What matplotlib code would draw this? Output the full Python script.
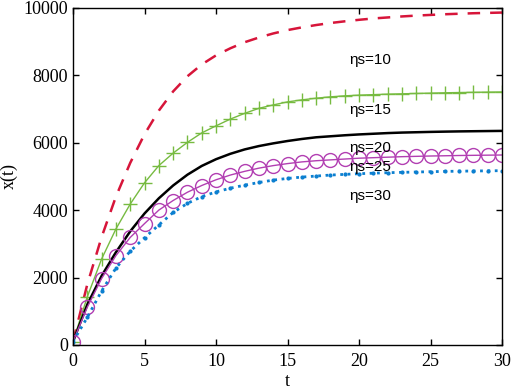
import numpy as np
import matplotlib.pyplot as plt

t = np.arange(0, 31)

# eta_s = 10
x_10 = [100, 1800, 3200, 4400, 5400, 6250, 6950, 7520, 7970, 8320,
        8590, 8800, 8980, 9120, 9240, 9340, 9420, 9490, 9550, 9600,
        9645, 9685, 9715, 9745, 9770, 9790, 9810, 9825, 9840, 9850, 9860]
# eta_s = 15
x_15 = [100, 1430, 2550, 3440, 4180, 4810, 5320, 5690, 6010, 6290,
        6500, 6700, 6870, 7020, 7120, 7210, 7270, 7320, 7360, 7390,
        7410, 7425, 7440, 7450, 7460, 7470, 7480, 7488, 7494, 7500, 7505]
# eta_s = 20
x_20 = [100, 1200, 2050, 2750, 3370, 3900, 4350, 4730, 5050, 5310,
        5510, 5670, 5800, 5900, 5980, 6050, 6110, 6160, 6190, 6220,
        6245, 6265, 6285, 6300, 6310, 6320, 6328, 6335, 6340, 6345, 6350]
# eta_s = 25
x_25 = [100, 1120, 1970, 2650, 3190, 3600, 4000, 4285, 4530, 4730,
        4900, 5040, 5150, 5245, 5320, 5380, 5430, 5465, 5490, 5515,
        5540, 5555, 5570, 5585, 5595, 5605, 5612, 5620, 5625, 5630, 5635]
# eta_s = 30
x_30 = [100, 820, 1600, 2280, 2780, 3180, 3560, 3930, 4200, 4400,
        4540, 4650, 4740, 4820, 4890, 4940, 4980, 5010, 5040, 5060,
        5080, 5095, 5110, 5120, 5130, 5140, 5148, 5155, 5160, 5165, 5170]

labels = ['ηs=10', 'ηs=15', 'ηs=20', 'ηs=25', 'ηs=30']
label_y = [8450, 6970, 5840, 5280, 4420]

fig = plt.figure(figsize=(5.12, 3.92), dpi=100)
ax = fig.add_axes([0.1426, 0.12, 0.838, 0.86])

ax.plot(t, x_10, '--', color='#d7153a', lw=1.8, dashes=(5, 4))
ax.plot(t, x_15, '-', color='#77bb41', lw=1.0, marker='+', ms=10, mew=1.0)
ax.plot(t, x_20, '-', color='black', lw=1.8)
ax.plot(t, x_25, '-', color='#b23fb2', lw=1.0, marker='o', ms=10,
        mfc='none', mew=1.0)
ax.plot(t, x_30, ':', color='#0b7fd0', lw=2.0, marker='.', ms=4)

for lab, ly in zip(labels, label_y):
    ax.text(20.8, ly, lab, ha='center', va='center', fontsize=11,
            family='Liberation Sans')

ax.set_xlim(0, 30)
ax.set_ylim(0, 10000)
ax.set_xticks([0, 5, 10, 15, 20, 25, 30])
ax.set_yticks([0, 2000, 4000, 6000, 8000, 10000])
ax.tick_params(direction='in', top=True, right=True, length=4,
               labelsize=13, width=1)
ax.tick_params(axis='x', pad=6)
for lbl in ax.get_xticklabels() + ax.get_yticklabels():
    lbl.set_family('Liberation Serif')
ax.set_xlabel('t', fontsize=13, family='Liberation Serif', labelpad=2)
ax.set_ylabel('x(t)', fontsize=13, family='Liberation Serif', labelpad=4)
for s in ax.spines.values():
    s.set_linewidth(1.0)

fig.savefig('out.png', dpi=100)
